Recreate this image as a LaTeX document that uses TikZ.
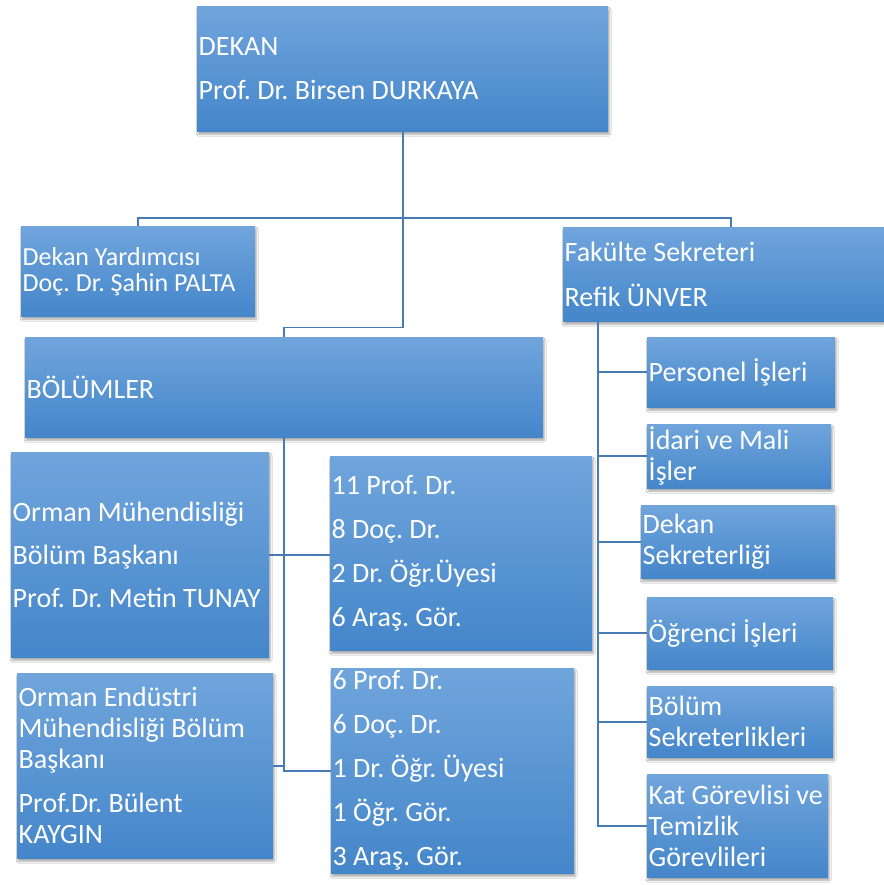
\documentclass[tikz,border=0pt]{standalone}
\usepackage{fontspec}
\setmainfont{Carlito}
\usepackage{tikz}
\usetikzlibrary{shadows.blur}
\frenchspacing

\definecolor{kutuust}{RGB}{112,165,220}
\definecolor{kutuorta}{RGB}{86,152,216}
\definecolor{kutualt}{RGB}{68,134,202}
\definecolor{hatrengi}{RGB}{72,122,182}

\begin{document}
\begin{tikzpicture}[x=1pt,y=-1pt,
		kutu/.style={rectangle, anchor=north west, inner sep=0pt,
			top color=kutuust, middle color=kutuorta, bottom color=kutualt,
			blur shadow={shadow xshift=1pt, shadow yshift=-3pt, shadow opacity=35, shadow blur steps=6}},
		yazi/.style={anchor=west, align=left, inner sep=0pt, xshift=1.5pt, text=white,
			font=\fontsize{28}{31}\selectfont},
		baglanti/.style={draw=hatrengi, line width=1.6pt}]
	\path[use as bounding box, fill=white] (0,0) rectangle (883,885);

	% ust kademe
	\node[kutu, minimum width=411pt, minimum height=125pt] (dekan) at (197,6) {};
	\node[yazi] (dekan-y) at (dekan.west) {DEKAN\\[13pt]Prof. Dr. Birsen DURKAYA};
	\node[kutu, minimum width=234pt, minimum height=90pt] (yard) at (21,226) {};
	\node[yazi, font=\fontsize{26}{26}\selectfont] (yard-y) at (yard.west) {Dekan Yardımcısı\\Doç. Dr. Şahin PALTA};
	\node[kutu, minimum width=336pt, minimum height=94pt] (fak) at (563,227) {};
	\node[yazi] (fak-y) at (fak.west) {Fakülte Sekreteri\\[14pt]Refik ÜNVER};

	% bolumler
	\node[kutu, minimum width=518pt, minimum height=100pt] (bolum) at (25,337) {};
	\node[yazi] (bolum-y) at (bolum.west) {BÖLÜMLER};
	\node[kutu, minimum width=258pt, minimum height=205pt] (ormuh) at (11,452) {};
	\node[yazi] (ormuh-y) at (ormuh.west) {Orman Mühendisliği\\[12pt]Bölüm Başkanı\\[12pt]Prof. Dr. Metin TUNAY};
	\node[kutu, minimum width=262pt, minimum height=194pt] (stat1) at (330,456) {};
	\node[yazi] (stat1-y) at (stat1.west) {11 Prof. Dr.\\[13pt]8 Doç. Dr.\\[13pt]2 Dr. Öğr.Üyesi\\[13pt]6 Araş. Gör.};
	\node[kutu, minimum width=256pt, minimum height=185pt] (orend) at (17,673) {};
	\node[yazi] (orend-y) at (orend.west) {Orman Endüstri\\Mühendisliği Bölüm\\Başkanı\\[13pt]Prof.Dr. Bülent\\KAYGIN};
	\node[kutu, minimum width=243pt, minimum height=205pt] (stat2) at (331,668) {};
	\node[yazi] (stat2-y) at (stat2.west) {6 Prof. Dr.\\[13pt]6 Doç. Dr.\\[13pt]1 Dr. Öğr. Üyesi\\[13pt]1 Öğr. Gör.\\[13pt]3 Araş. Gör.};

	% sekreterlik birimleri
	\node[kutu, minimum width=188pt, minimum height=70pt] (pers) at (647,337) {};
	\node[yazi] (pers-y) at (pers.west) {Personel İşleri};
	\node[kutu, minimum width=184pt, minimum height=64pt] (idari) at (647,424) {};
	\node[yazi] (idari-y) at (idari.west) {İdari ve Mali\\İşler};
	\node[kutu, minimum width=194pt, minimum height=73pt] (dsek) at (641,505) {};
	\node[yazi] (dsek-y) at (dsek.west) {Dekan\\Sekreterliği};
	\node[kutu, minimum width=186pt, minimum height=72pt] (ogr) at (647,597) {};
	\node[yazi] (ogr-y) at (ogr.west) {Öğrenci İşleri};
	\node[kutu, minimum width=186pt, minimum height=71pt] (bsek) at (647,686) {};
	\node[yazi] (bsek-y) at (bsek.west) {Bölüm\\Sekreterlikleri};
	\node[kutu, minimum width=181pt, minimum height=103pt] (kat) at (647,774) {};
	\node[yazi] (kat-y) at (kat.west) {Kat Görevlisi ve\\Temizlik\\Görevlileri};

	% baglantilar
	\draw[baglanti] (dekan.south) -- ++(0,196) -| (bolum.north);
	\draw[baglanti] (yard.north) -- ++(0,-8) -| (fak.north);
	\draw[baglanti] (bolum.south) |- (stat2.west);
	\draw[baglanti] (ormuh.east) -- (ormuh.east -| stat1.west);
	\draw[baglanti] (orend.east) -- (orend.east -| bolum.south);
	\coordinate (sagkol) at (598,321);
	\draw[baglanti] (sagkol) |- (kat.west);
	\foreach \b in {pers,idari,dsek,ogr,bsek}
		\draw[baglanti] (sagkol |- \b.west) -- (\b.west);
\end{tikzpicture}
\end{document}
